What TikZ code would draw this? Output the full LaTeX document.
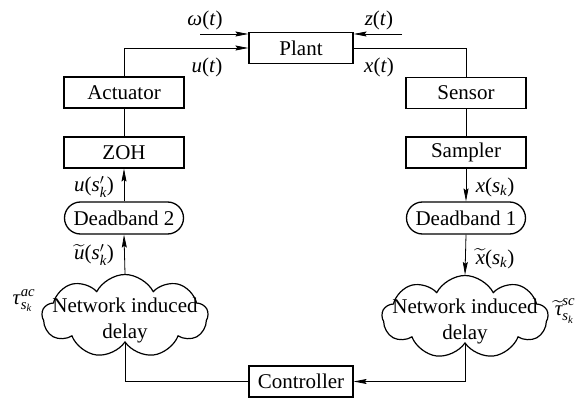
\documentclass[tikz,border=0pt]{standalone}
\usepackage{amsmath}
\usepackage{fontspec}
\setmainfont{Liberation Serif}
\usetikzlibrary{shapes.misc,shapes.symbols,arrows.meta}

\begin{document}
\begin{tikzpicture}[x=1pt,y=-1pt,
  font=\fontsize{21}{26}\selectfont,
  blk/.style={draw,line width=1.3pt,minimum width=120pt,minimum height=31pt,inner sep=0pt},
  pill/.style={draw,line width=1.3pt,rounded rectangle,minimum width=119pt,minimum height=32pt,inner sep=0pt},
  net/.style={draw,line width=1.2pt,cloud,cloud puffs=9,cloud puff arc=125,cloud ignores aspect,
              minimum width=166pt,minimum height=83pt,inner sep=0pt},
  nettext/.style={inner sep=0pt,align=center},
  wire/.style={line width=0.8pt},
  flow/.style={wire,-{Stealth[length=13pt,width=5pt,inset=2pt]}},
  lbl/.style={inner sep=0pt}
]
\useasboundingbox (0,0) rectangle (582,398);

% blocks
\node[blk,minimum width=104pt] (plant) at (301,48) {Plant};
\node[blk] (act) at (124,92.5) {Actuator};
\node[blk] (zoh) at (124,152.5) {ZOH};
\node[pill] (db2) at (124,218) {Deadband 2};
\node[net] (cl) at (125,316) {};
\node[nettext] (clt) at (125,320) {Network induced\\delay};
\node[blk] (sen) at (466,93) {Sensor};
\node[blk] (smp) at (466,152.5) {Sampler};
\node[pill] (db1) at (466,218) {Deadband 1};
\node[net] (cr) at (465,317) {};
\node[nettext] (crt) at (465,321) {Network induced\\delay};
\node[blk,minimum width=104pt] (ctl) at (301,381.5) {Controller};

% external inputs of the plant
\coordinate (win) at (200,34);
\coordinate (zin) at (402,34);
\draw[flow] (win) -- (win -| plant.west);
\draw[flow] (zin) -- (zin -| plant.east);

% loop connections
\draw[flow] (act.north) |- (plant.west);
\draw[wire] (plant.east) -| (sen.north);
\draw[wire] (act.south) -- (zoh.north);
\draw[flow] (db2.north) -- (zoh.south);
\draw[flow] (cl.north) -- (db2.south);
\draw[wire] (sen.south) -- (smp.north);
\draw[flow] (smp.south) -- (db1.north);
\draw[flow] (db1.south) -- (cr.north);
\draw[flow] (cr.south) |- (ctl.east);
\draw[wire] (ctl.west) -| (cl.south);

% signal labels
\node[lbl] (lw) at (205,20) {\textit{ω}(\textit{t})};
\node[lbl] (lz) at (379,20) {\textit{z}(\textit{t})};
\node[lbl] (lu) at (207,67) {\textit{u}(\textit{t})};
\node[lbl] (lx) at (379,67) {\textit{x}(\textit{t})};
\node[lbl] (lus) at (94,187) {\textit{u}(\textit{s}$'_{\textit{k}}$)};
\node[lbl] (lut) at (94,255) {$\widetilde{\textit{u}}$(\textit{s}$'_{\textit{k}}$)};
\node[lbl] (lxs) at (495,187) {\textit{x}(\textit{s}$_{\textit{k}}$)};
\node[lbl] (lxt) at (495,259) {$\widetilde{\textit{x}}$(\textit{s}$_{\textit{k}}$)};
\node[lbl] (tac) at (24,301) {\textit{τ}$^{\textit{ac}}_{\textit{s}_{\textit{k}}}$};
\node[lbl] (tsc) at (565,311) {$\widetilde{\textit{τ}}^{\textit{sc}}_{\textit{s}_{\textit{k}}}$};
\end{tikzpicture}
\end{document}
